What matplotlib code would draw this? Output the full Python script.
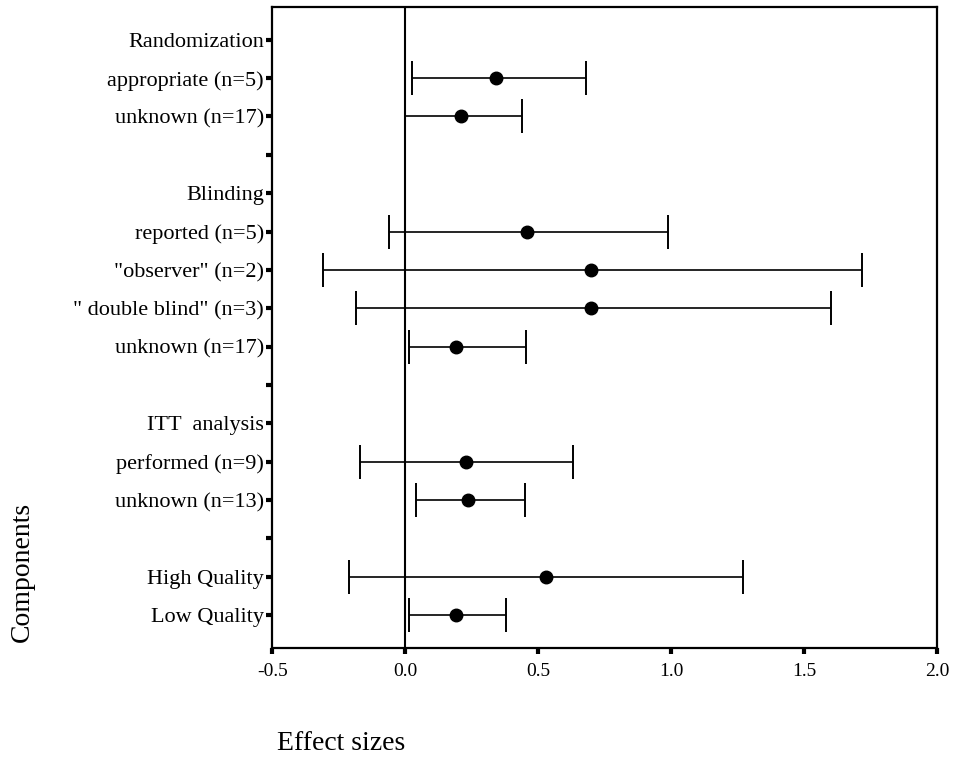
import numpy as np
import matplotlib
matplotlib.use('Agg')
import matplotlib.pyplot as plt

labels = ['Randomization', 'appropriate (n=5)', 'unknown (n=17)', '',
          'Blinding', 'reported (n=5)', '"observer" (n=2)', '" double blind" (n=3)',
          'unknown (n=17)', '', 'ITT  analysis', 'performed (n=9)',
          'unknown (n=13)', '', 'High Quality', 'Low Quality']
effect = [np.nan, 0.34, 0.21, np.nan, np.nan, 0.46, 0.70, 0.70, 0.19,
          np.nan, np.nan, 0.23, 0.235, np.nan, 0.53, 0.19]
lower = [np.nan, 0.025, 0.0, np.nan, np.nan, -0.06, -0.31, -0.185, 0.015,
         np.nan, np.nan, -0.17, 0.04, np.nan, -0.21, 0.015]
upper = [np.nan, 0.68, 0.44, np.nan, np.nan, 0.99, 1.72, 1.60, 0.455,
         np.nan, np.nan, 0.63, 0.45, np.nan, 1.27, 0.38]
xticks = [-0.5, 0.0, 0.5, 1.0, 1.5, 2.0]

plt.rcParams['font.family'] = ['Liberation Serif', 'DejaVu Serif']

effect = np.array(effect)
lower = np.array(lower)
upper = np.array(upper)
ypos = np.arange(len(labels))
ok = ~np.isnan(effect)

fig = plt.figure(figsize=(9.55, 7.57), dpi=100)
ax = fig.add_axes([0.285, 0.144, 0.696, 0.847])

ax.axvline(0, color='black', lw=1.5, zorder=1)
ax.errorbar(effect[ok], ypos[ok],
            xerr=[effect[ok] - lower[ok], upper[ok] - effect[ok]],
            fmt='o', color='black', ms=9, lw=1.2, capsize=12, capthick=1.4,
            zorder=3)

ax.set_xlim(-0.5, 2.0)
ax.set_ylim(len(labels) - 0.14, -0.86)
ax.set_xticks(xticks)
ax.set_xticklabels(['%.1f' % v for v in xticks], fontsize=14)
ax.set_yticks(ypos)
ax.set_yticklabels(labels, fontsize=16)
ax.tick_params(axis='both', direction='out', length=4, width=3, color='black')
ax.tick_params(axis='x', pad=7)
ax.tick_params(axis='y', pad=2)
for s in ax.spines.values():
    s.set_linewidth(1.6)

fig.text(0.023, 0.245, 'Components', rotation=90, fontsize=20,
         ha='center', va='center')
fig.text(0.357, 0.018, 'Effect sizes', fontsize=20, ha='center', va='center')

fig.savefig('out.png', dpi=100)
